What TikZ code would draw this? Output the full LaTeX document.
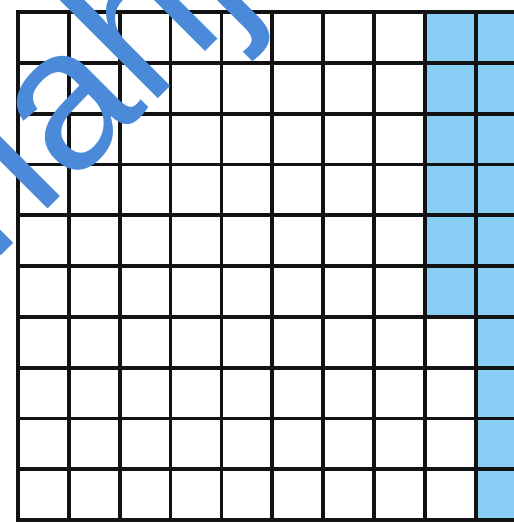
\documentclass[tikz,border=0pt]{standalone}
\usepackage{fontspec}
\newfontfamily\wmfont{Liberation Sans}
\definecolor{cellblue}{RGB}{137,207,245}
\definecolor{markblue}{RGB}{74,138,217}
\definecolor{gridink}{RGB}{18,18,18}

\begin{document}
\begin{tikzpicture}[x=1pt,y=-1pt,
  cell/.style={fill=cellblue,draw=none},
  gridline/.style={draw=gridink,line width=3.8pt,line cap=rect},
  wmark/.style={text=markblue,inner sep=0pt,font=\wmfont\fontsize{200}{200}\selectfont}]

\useasboundingbox (0,0) rectangle (514,523);
\clip (0,0) rectangle (514,523);
\fill[white] (0,0) rectangle (514,523);

% shaded cells of the last two columns
\foreach \r in {0,...,5} \fill[cell] (18+8*50.85,12+\r*50.8) rectangle ++(50.85,50.8);
\foreach \r in {0,...,9} \fill[cell] (18+9*50.85,12+\r*50.8) rectangle ++(50.85,50.8);

% ten by ten grid
\foreach \i in {0,...,10} \draw[gridline] (18+\i*50.85,12) -- ++(0,508);
\foreach \j in {0,...,10} \draw[gridline] (18,12+\j*50.8) -- ++(508.5,0);

% watermark
\node[wmark,rotate=45,anchor=base west] (wm) at (-8.4,265.4) {rlahj};
\end{tikzpicture}
\end{document}
